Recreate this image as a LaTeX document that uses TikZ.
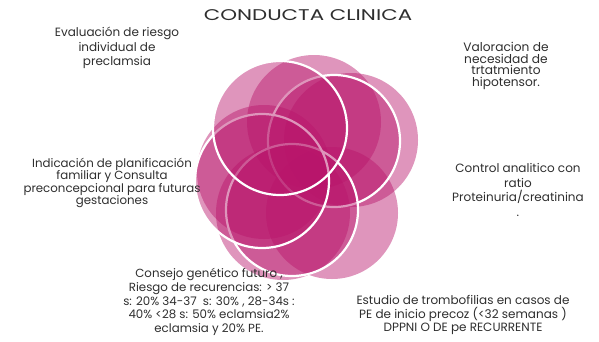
\documentclass[tikz,border=0pt]{standalone}
\usepackage{fontspec}
\setmainfont{Poppins}
\definecolor{petal}{HTML}{B8146A}
\definecolor{txt}{HTML}{2E2E2E}
\begin{document}
\begin{tikzpicture}[x=1pt,y=-1pt,
  petalfill/.style={fill=petal,fill opacity=0.45,draw=none},
  petalring/.style={fill=petal,fill opacity=0.45,draw=white,draw opacity=1,line width=2.2pt},
  lbl/.style={align=center,text=txt,inner sep=0pt}]
\useasboundingbox (0,0) rectangle (599,341);
% light petals
\fill[petalfill] (314,122) circle (67);
\fill[petalfill] (351,140) circle (67);
\fill[petalfill] (332,213) circle (66);
\fill[petalfill] (283,213) circle (67);
\fill[petalfill] (264,172) circle (67);
% outlined petals
\path[petalring] (334,141) circle (66);
\path[petalring] (292,210) circle (66);
\path[petalring] (262,181) circle (67);
\path[petalring] (280,128) circle (67);
% title and labels
\node[text=txt,font=\fontsize{15.5}{18}\selectfont,inner sep=0pt,xscale=1.38] (title) at (308,15) {CONDUCTA CLINICA};
\node[lbl,font=\fontsize{12}{14.5}\selectfont] (t1) at (117,48) {Evaluación de riesgo\\individual de\\preclamsia};
\node[lbl,font=\fontsize{12.2}{11.6}\selectfont] (t2) at (506,66) {Valoracion de\\necesidad de\\trtatmiento\\hipotensor.};
\node[lbl,font=\fontsize{12}{14.5}\selectfont] (t3) at (518,190) {Control analitico con\\ratio\\Proteinuria/creatinina\\.};
\node[lbl,font=\fontsize{11.8}{12.6}\selectfont] (t4) at (112,183) {Indicación de planificación\\familiar y Consulta\\preconcepcional para futuras\\gestaciones};
\node[lbl,font=\fontsize{11.8}{13.8}\selectfont] (t5) at (209,302) {Consejo genético futuro ,\\Riesgo de recurencias: > 37\\s: 20\% 34-37~ s: 30\% , 28-34s :\\40\% <28 s: 50\% eclamsia2\%\\eclamsia y 20\% PE.};
\node[lbl,font=\fontsize{12}{13.5}\selectfont] (t6) at (463,315) {Estudio de trombofilias en casos de\\PE de inicio precoz (<32 semanas )\\DPPNI O DE pe RECURRENTE};
\end{tikzpicture}
\end{document}
